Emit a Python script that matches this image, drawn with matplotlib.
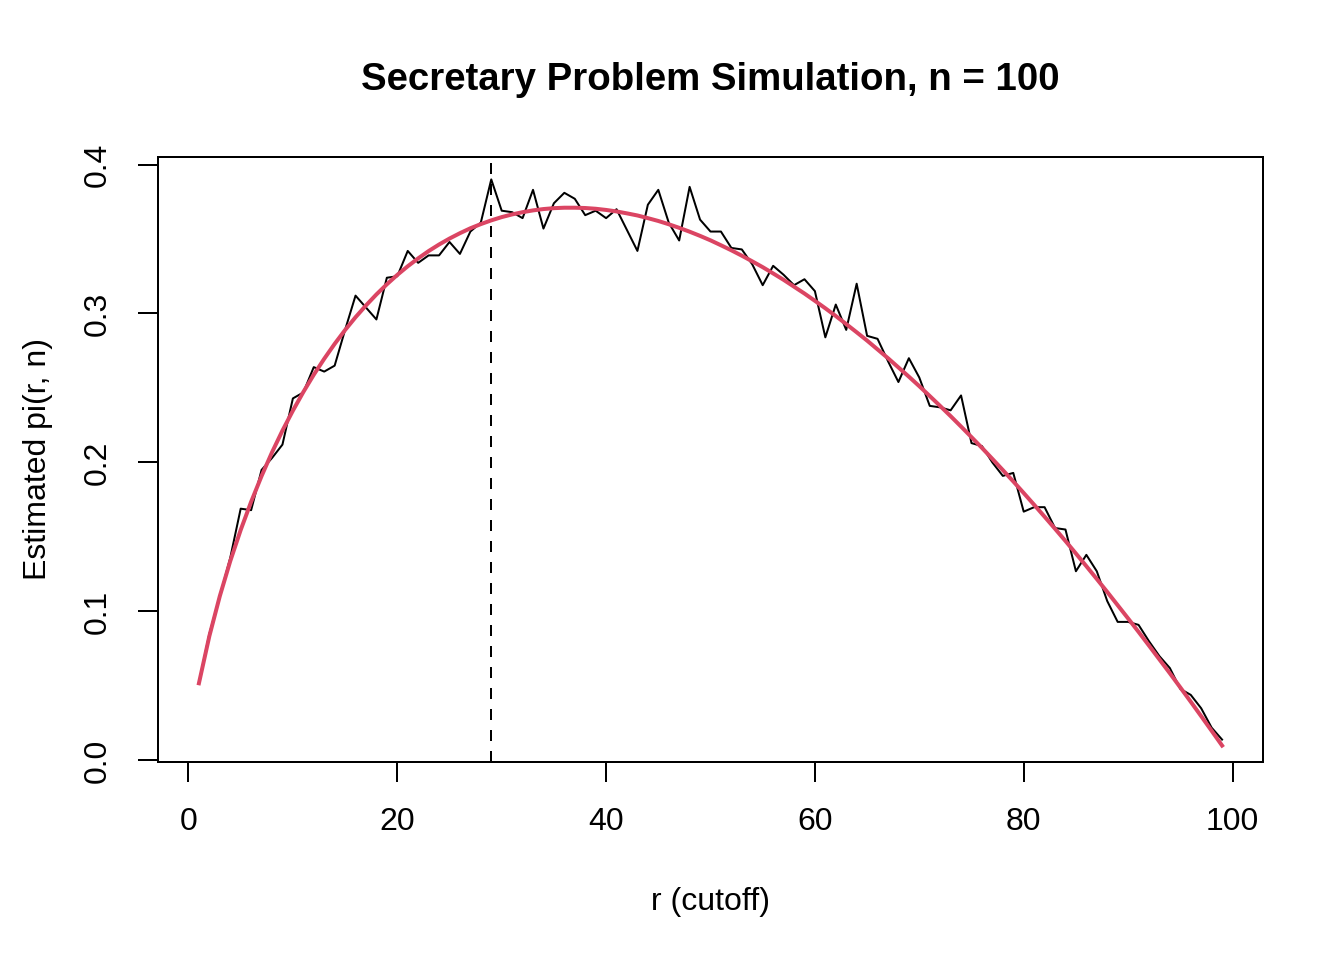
"""Secretary problem simulation: estimated success probability by cutoff r, n = 100."""
import matplotlib

matplotlib.use("Agg")
import matplotlib.pyplot as plt  # noqa: E402
import numpy as np  # noqa: E402

N = 100
BEST_R = 29  # cutoff with the highest simulated success rate

cutoff = np.arange(1, 100)

# simulated success rate
simulated = [
    0.052, 0.085, 0.110, 0.136, 0.169, 0.168, 0.195, 0.203, 0.212, 0.243,
    0.247, 0.264, 0.261, 0.265, 0.289, 0.312, 0.304, 0.296, 0.324, 0.325,
    0.342, 0.334, 0.339, 0.339, 0.348, 0.340, 0.355, 0.361, 0.390, 0.369,
    0.368, 0.364, 0.383, 0.357, 0.374, 0.381, 0.377, 0.366, 0.369, 0.364,
    0.370, 0.356, 0.342, 0.373, 0.383, 0.361, 0.349, 0.385, 0.363, 0.355,
    0.355, 0.344, 0.343, 0.333, 0.319, 0.332, 0.326, 0.319, 0.323, 0.315,
    0.284, 0.306, 0.289, 0.320, 0.285, 0.283, 0.268, 0.254, 0.270, 0.257,
    0.238, 0.237, 0.235, 0.245, 0.213, 0.211, 0.200, 0.191, 0.193, 0.167,
    0.170, 0.170, 0.156, 0.155, 0.127, 0.138, 0.127, 0.107, 0.093, 0.093,
    0.091, 0.080, 0.070, 0.062, 0.048, 0.044, 0.035, 0.022, 0.014,
]

# theoretical curve
theory = [
    0.0518, 0.0835, 0.1103, 0.1338, 0.1547, 0.1736, 0.1909, 0.2068, 0.2214, 0.2348,
    0.2473, 0.2589, 0.2696, 0.2796, 0.2889, 0.2975, 0.3054, 0.3128, 0.3196, 0.3259,
    0.3317, 0.3370, 0.3419, 0.3463, 0.3503, 0.3539, 0.3572, 0.3600, 0.3625, 0.3647,
    0.3665, 0.3680, 0.3692, 0.3701, 0.3707, 0.3710, 0.3710, 0.3708, 0.3703, 0.3695,
    0.3685, 0.3672, 0.3658, 0.3640, 0.3621, 0.3599, 0.3575, 0.3549, 0.3521, 0.3491,
    0.3458, 0.3424, 0.3388, 0.3350, 0.3311, 0.3269, 0.3226, 0.3180, 0.3134, 0.3085,
    0.3035, 0.2983, 0.2929, 0.2874, 0.2818, 0.2759, 0.2700, 0.2638, 0.2576, 0.2512,
    0.2446, 0.2379, 0.2311, 0.2241, 0.2170, 0.2098, 0.2024, 0.1949, 0.1873, 0.1795,
    0.1716, 0.1636, 0.1555, 0.1473, 0.1389, 0.1304, 0.1218, 0.1131, 0.1042, 0.0953,
    0.0863, 0.0771, 0.0678, 0.0585, 0.0490, 0.0394, 0.0297, 0.0199, 0.0100,
]

x_ticks = [0, 20, 40, 60, 80, 100]
y_ticks = [0.0, 0.1, 0.2, 0.3, 0.4]
RED = "#DB4563"


def r_range(values):
    """R's default axis range: data range padded 4% on each side."""
    lo, hi = min(values), max(values)
    pad = 0.04 * (hi - lo)
    return lo - pad, hi + pad


def main():
    plt.rcParams["font.family"] = ["Liberation Sans", "DejaVu Sans"]
    plt.rcParams["font.size"] = 12

    fig = plt.figure(figsize=(7, 5), dpi=192)
    ax = fig.add_axes([158 / 1344, 1 - 762 / 960, 1105 / 1344, 605 / 960])

    ax.plot(cutoff, simulated, color="black", lw=0.75)
    ax.axvline(BEST_R, color="black", lw=0.75, linestyle=(0, (5.5, 5)))
    ax.plot(cutoff, theory, color=RED, lw=1.5)

    ax.set_xlim(*r_range(cutoff))
    ax.set_ylim(*r_range(simulated))
    ax.set_xticks(x_ticks)
    ax.set_xticklabels([str(t) for t in x_ticks])
    ax.set_yticks(y_ticks)
    ax.set_yticklabels([f"{t:.1f}" for t in y_ticks], rotation=90, va="center")
    ax.tick_params(direction="out", length=7.5, width=0.75, pad=9.5, labelsize=12)
    for side in ax.spines.values():
        side.set_linewidth(0.75)

    cx = (158 + 1263) / 2 / 1344
    fig.text(cx, 1 - 80 / 960, f"Secretary Problem Simulation, n = {N}",
             ha="center", va="center", fontsize=14.4, fontweight="bold")
    fig.text(cx, 1 - 902 / 960, "r (cutoff)", ha="center", va="center")
    fig.text(38 / 1344, 1 - 459.5 / 960, "Estimated pi(r, n)",
             ha="center", va="center", rotation=90)

    fig.savefig("out.png", dpi=192)
    plt.close(fig)


if __name__ == "__main__":
    main()
